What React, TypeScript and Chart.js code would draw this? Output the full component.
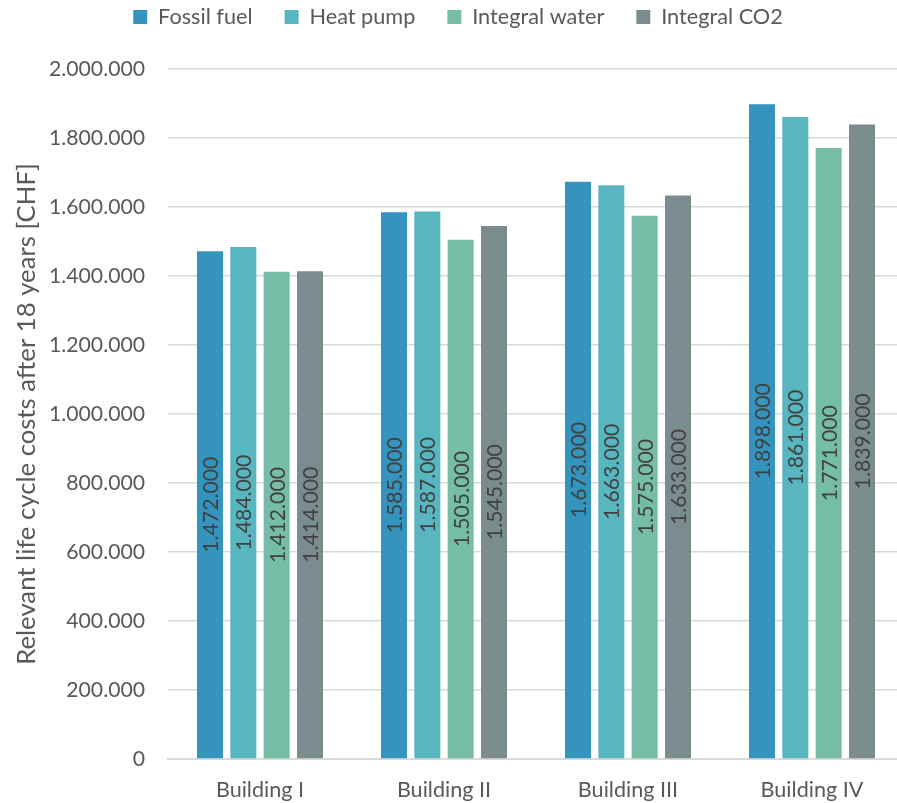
import React, { useEffect, useRef } from "react";
import { Chart, registerables } from "chart.js";

Chart.register(...registerables);

const categories = ["Building I", "Building II", "Building III", "Building IV"];
const seriesNames = ["Fossil fuel", "Heat pump", "Integral water", "Integral CO2"];
const fossilFuel = [1472000, 1585000, 1673000, 1898000];
const heatPump = [1484000, 1587000, 1663000, 1861000];
const integralWater = [1412000, 1505000, 1575000, 1771000];
const integralCO2 = [1414000, 1545000, 1633000, 1839000];
const seriesColors = ["#3594BD", "#58B6C0", "#75BDA7", "#7A8C8E"];
const yMin = 0;
const yMax = 2000000;
const yStep = 200000;
const yTitle = "Relevant life cycle costs after 18 years [CHF]";

const FAMILY = "Lato";
const CANVAS_W = 906;
const CANVAS_H = 803;
const LEGEND_PAD = 32;

function fmt(v: number): string {
  const s = Math.round(v).toString();
  return s.replace(/\B(?=(\d{3})+(?!\d))/g, ".");
}

function fitSize(text: string, target: number): number {
  const c = document.createElement("canvas").getContext("2d") as CanvasRenderingContext2D;
  c.font = `100px ${FAMILY}`;
  const w = c.measureText(text).width || 1;
  return Math.round((100 * target) / w * 10) / 10;
}

export default function App() {
  const ref = useRef<HTMLCanvasElement | null>(null);
  useEffect(() => {
    document.body.style.margin = "0";
    const tickSize = fitSize("2.000.000", 96);
    const xSize = fitSize("Building I", 88);
    const legendSize = fitSize("Heat pump", 106);
    const titleSize = fitSize(yTitle, 501);
    const labelSize = fitSize("1.472.000", 96);

    const barLabels = {
      id: "barLabels",
      afterDatasetsDraw(chart: any) {
        const ctx = chart.ctx;
        ctx.save();
        ctx.font = `${labelSize}px ${FAMILY}`;
        ctx.fillStyle = "#404040";
        ctx.textAlign = "center";
        ctx.textBaseline = "middle";
        chart.data.datasets.forEach((ds: any, i: number) => {
          const meta = chart.getDatasetMeta(i);
          meta.data.forEach((bar: any, j: number) => {
            const cx = bar.x;
            const cy = (bar.y + bar.base) / 2;
            ctx.save();
            ctx.translate(cx, cy);
            ctx.rotate(-Math.PI / 2);
            ctx.fillText(fmt(ds.data[j]), 0, 1);
            ctx.restore();
          });
        });
        ctx.restore();
      },
    };

    const legendPlace = {
      id: "legendPlace",
      beforeInit(chart: any) {
        const lg = chart.legend;
        if (!lg) return;
        const orig = lg.fit;
        lg.fit = function () {
          orig.call(this);
          this.height = 69;
        };
      },
      afterLayout(chart: any) {
        const lg = chart.legend;
        if (!lg) return;
        const itemH = Math.max(legendSize, 14);
        lg.top = 17 - LEGEND_PAD - itemH / 2;
        lg.left += 6;
        lg.right += 6;
      },
    };

    const all = [fossilFuel, heatPump, integralWater, integralCO2];
    const chart = new Chart(ref.current as HTMLCanvasElement, {
      type: "bar",
      data: {
        labels: categories,
        datasets: seriesNames.map((n, i) => ({
          label: n,
          data: all[i],
          backgroundColor: seriesColors[i],
          borderWidth: 0,
          barPercentage: 0.78,
          categoryPercentage: 0.725,
        })),
      },
      options: {
        animation: false,
        responsive: false,
        maintainAspectRatio: false,
        layout: { padding: { top: 0, right: 2, bottom: 0, left: 0 } },
        plugins: {
          legend: {
            position: "top",
            labels: {
              font: { family: FAMILY, size: legendSize },
              color: "#595959",
              boxWidth: 14,
              boxHeight: 14,
              padding: LEGEND_PAD,
            },
          },
          tooltip: { enabled: false },
        },
        scales: {
          x: {
            grid: { display: false, drawTicks: false },
            border: { color: "#D9D9D9", width: 2 },
            ticks: { font: { family: FAMILY, size: xSize }, color: "#595959", padding: 18 },
            afterFit: (s: any) => {
              s.height = 44;
            },
          },
          y: {
            min: yMin,
            max: yMax,
            border: { display: false },
            grid: { color: "#D9D9D9", lineWidth: 1.5, drawTicks: false },
            ticks: {
              stepSize: yStep,
              font: { family: FAMILY, size: tickSize },
              color: "#595959",
              padding: 23,
              callback: (v: any) => fmt(Number(v)),
            },
            title: {
              display: true,
              text: yTitle,
              font: { family: FAMILY, size: titleSize },
              color: "#595959",
              padding: { top: 11, bottom: 0 },
            },
            afterFit: (s: any) => {
              s.width = 168;
            },
          },
        },
      },
      plugins: [legendPlace, barLabels],
    });
    return () => chart.destroy();
  }, []);
  return (
    <div style={{ width: 897, height: 803, overflow: "hidden" }}>
      <canvas ref={ref} width={CANVAS_W} height={CANVAS_H} style={{ display: "block" }} />
    </div>
  );
}
